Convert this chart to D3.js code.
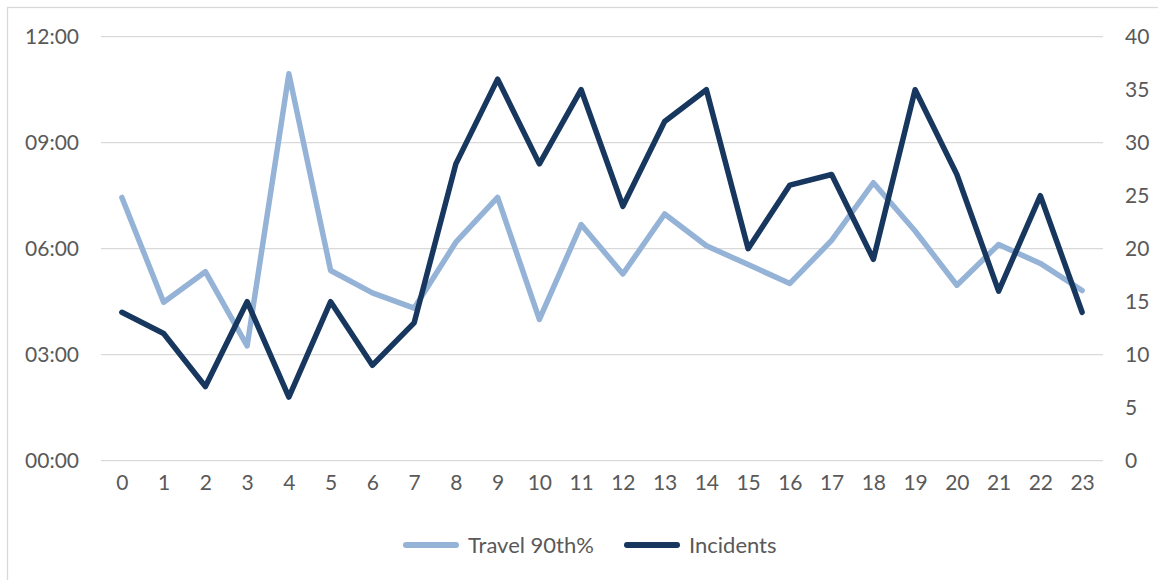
<!DOCTYPE html>
<html>
<head>
<meta charset="utf-8">
<script src="https://cdn.jsdelivr.net/npm/d3@7"></script>
<style>
  html, body { margin: 0; padding: 0; background: #fff; }
  svg { display: block; }
  text { font-family: Lato, "Open Sans", sans-serif; fill: #595959; }
</style>
</head>
<body>
<svg id="chart" width="1158" height="580"></svg>
<script>
const hours = d3.range(0, 24).map(String);
const travel90 = ["7:27","4:29","5:21","3:15","10:57","5:23","4:45","4:19","6:11","7:27","4:00","6:41",
                  "5:17","6:59","6:05","5:33","5:01","6:14","7:52","6:30","4:58","6:07","5:35","4:49"];
const incidents = [14,12,7,15,6,15,9,13,28,36,28,35,24,32,35,20,26,27,19,35,27,16,25,14];
const leftTicks = ["00:00","03:00","06:00","09:00","12:00"];
const rightTicks = [0,5,10,15,20,25,30,35,40];
const seriesNames = ["Travel 90th%", "Incidents"];
const colors = ["#95B3D7", "#17375E"];

const toMin = s => { const [h, m] = s.split(":").map(Number); return h * 60 + m; };

const svg = d3.select("#chart");
const plot = { left: 101, right: 1103, top: 36.7, bottom: 460.7 };

// outer chart border
svg.append("rect").attr("x", 7.5).attr("y", 7.5).attr("width", 1170).attr("height", 600)
  .attr("fill", "none").attr("stroke", "#D9D9D9").attr("stroke-width", 1.3);

const x = d3.scalePoint().domain(hours).range([plot.left, plot.right]).padding(0.5);
const yL = d3.scaleLinear().domain([0, 720]).range([plot.bottom, plot.top]);
const yR = d3.scaleLinear().domain([0, 40]).range([plot.bottom, plot.top]);

// gridlines
svg.append("g").selectAll("line").data(leftTicks).join("line")
  .attr("x1", plot.left).attr("x2", plot.right)
  .attr("y1", d => yL(toMin(d))).attr("y2", d => yL(toMin(d)))
  .attr("stroke", "#D9D9D9").attr("stroke-width", 1.3);

// left axis
const leftAxis = d3.axisLeft(yL).tickValues(leftTicks.map(toMin))
  .tickFormat((d, i) => leftTicks[i]).tickSize(0).tickPadding(22);
const gl = svg.append("g").attr("transform", `translate(${plot.left},0)`).call(leftAxis);
gl.select(".domain").remove();
gl.selectAll("text").attr("font-size", 21).attr("fill", "#595959").style("font-family", "Lato, sans-serif");

// right axis
const rightAxis = d3.axisRight(yR).tickValues(rightTicks).tickSize(0).tickPadding(22);
const gr = svg.append("g").attr("transform", `translate(${plot.right},0)`).call(rightAxis);
gr.select(".domain").remove();
gr.selectAll("text").attr("font-size", 21).attr("fill", "#595959").style("font-family", "Lato, sans-serif");

// bottom axis
const bottomAxis = d3.axisBottom(x).tickSize(0).tickPadding(14);
const gb = svg.append("g").attr("transform", `translate(0,${plot.bottom})`).call(bottomAxis);
gb.select(".domain").remove();
gb.selectAll("text").attr("font-size", 21).attr("fill", "#595959").style("font-family", "Lato, sans-serif");

// lines
const lineT = d3.line().x((d, i) => x(hours[i])).y(d => yL(toMin(d)));
const lineI = d3.line().x((d, i) => x(hours[i])).y(d => yR(d));

svg.append("path").datum(travel90).attr("d", lineT)
  .attr("fill", "none").attr("stroke", colors[0]).attr("stroke-width", 5.5)
  .attr("stroke-linejoin", "round").attr("stroke-linecap", "round");
svg.append("path").datum(incidents).attr("d", lineI)
  .attr("fill", "none").attr("stroke", colors[1]).attr("stroke-width", 5.5)
  .attr("stroke-linejoin", "round").attr("stroke-linecap", "round");

// legend
const legend = svg.append("g");
const legendItems = [{ x: 403, name: seriesNames[0], c: colors[0] }, { x: 624, name: seriesNames[1], c: colors[1] }];
legendItems.forEach(it => {
  legend.append("line").attr("x1", it.x + 3).attr("x2", it.x + 53).attr("y1", 545).attr("y2", 545)
    .attr("stroke", it.c).attr("stroke-width", 6).attr("stroke-linecap", "round");
  legend.append("text").attr("x", it.x + 65).attr("y", 545).attr("dy", "0.35em")
    .attr("font-size", 22).text(it.name);
});
</script>
</body>
</html>
